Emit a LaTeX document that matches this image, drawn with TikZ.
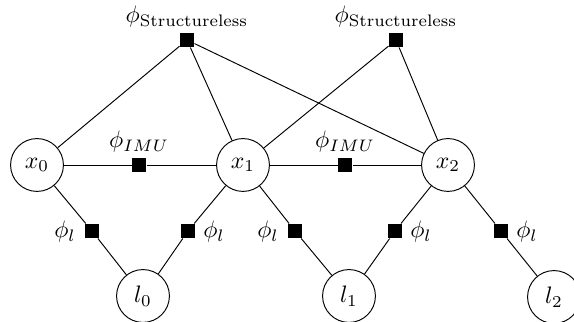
\documentclass[tikz,border=0pt]{standalone}
\begin{document}
\begin{tikzpicture}[x=0.42pt,y=-0.42pt,
  var/.style={circle,draw,minimum size=22.2pt,inner sep=0pt},
  fac/.style={rectangle,fill=black,minimum size=5.9pt,inner sep=0pt},
  edge/.style={draw,line width=0.4pt}]
\useasboundingbox (0,0) rectangle (574,322);
\node[var] (x0) at (37,165) {$x_0$};
\node[var] (x1) at (243,165) {$x_1$};
\node[var] (x2) at (448,165) {$x_2$};
\node[var] (l0) at (143,296) {$l_0$};
\node[var] (l1) at (349,296) {$l_1$};
\node[var] (l2) at (554,297) {$l_2$};
\node[fac] (s1) at (187,40) {};
\node[fac] (s2) at (396,40) {};
\node[fac] (i1) at (139,165) {};
\node[fac] (i2) at (345,165) {};
\node[fac] (p1) at (92,231) {};
\node[fac] (p2) at (188,231) {};
\node[fac] (p3) at (295,231) {};
\node[fac] (p4) at (395,231) {};
\node[fac] (p5) at (501,231) {};
\node (ls1) at (187,17) {$\phi_{\mathrm{Structureless}}$};
\node (ls2) at (396,17) {$\phi_{\mathrm{Structureless}}$};
\node (li1) at (139,142) {$\phi_{IMU}$};
\node (li2) at (345,142) {$\phi_{IMU}$};
\node (lp1) at (65,232) {$\phi_l$};
\node (lp2) at (214,232) {$\phi_l$};
\node (lp3) at (268,232) {$\phi_l$};
\node (lp4) at (421,232) {$\phi_l$};
\node (lp5) at (527,232) {$\phi_l$};
\draw[edge] (s1) -- (x0);
\draw[edge] (s1) -- (x1);
\draw[edge] (s1) -- (x2);
\draw[edge] (s2) -- (x1);
\draw[edge] (s2) -- (x2);
\draw[edge] (x0) -- (i1) -- (x1);
\draw[edge] (x1) -- (i2) -- (x2);
\draw[edge] (x0) -- (p1) -- (l0);
\draw[edge] (x1) -- (p2) -- (l0);
\draw[edge] (x1) -- (p3) -- (l1);
\draw[edge] (x2) -- (p4) -- (l1);
\draw[edge] (x2) -- (p5) -- (l2);
\end{tikzpicture}
\end{document}
